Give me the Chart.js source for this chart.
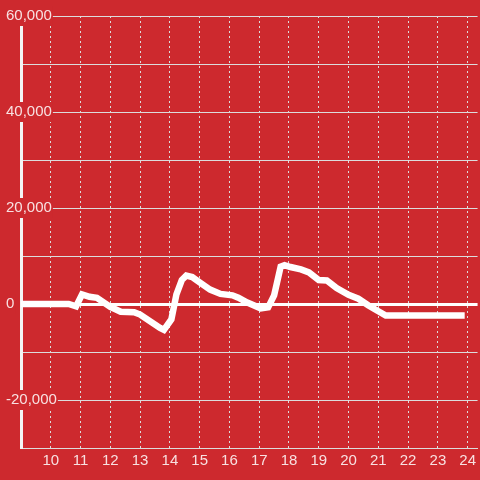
<!DOCTYPE html>
<html>
<head>
<meta charset="utf-8">
<script src="https://cdn.jsdelivr.net/npm/chart.js@4"></script>
<style>
  html, body { margin: 0; padding: 0; background: #cd292e; }
  #wrap { width: 480px; height: 480px; }
</style>
</head>
<body>
<div id="wrap"><canvas id="chart"></canvas></div>
<script>
// Data (hours of the day, value)
const hours = [9.0, 10.6, 10.85, 11.05, 11.3, 11.55, 12.0, 12.35, 12.8, 13.0,
  13.67, 13.8, 14.05, 14.22, 14.4, 14.55, 14.75, 15.0, 15.35, 15.7,
  16.1, 16.3, 16.6, 17.05, 17.3, 17.5, 17.72, 17.85, 18.05, 18.4,
  18.67, 19.0, 19.27, 19.6, 20.0, 20.33, 20.67, 21.0, 21.25, 23.9];
const values = [0, 0, -500, 2000, 1500, 1300, -600, -1600, -1700, -2200,
  -5000, -5400, -3200, 2000, 5000, 5900, 5600, 4500, 3000, 2100,
  1800, 1300, 300, -900, -700, 1800, 7800, 8100, 7700, 7200,
  6600, 5000, 4900, 3300, 1900, 1100, -300, -1500, -2400, -2400];
const hourTicks = [10, 11, 12, 13, 14, 15, 16, 17, 18, 19, 20, 21, 22, 23, 24];

const bgColor = '#cd292e';
const textColor = 'rgba(255,255,255,0.86)';
const gridColor = '#dcdcdc';

new Chart(document.getElementById('chart'), {
  type: 'line',
  data: {
    datasets: [{
      data: hours.map((h, i) => ({ x: h, y: values[i] })),
      borderColor: '#ffffff',
      borderWidth: 6.5,
      pointRadius: 0,
      tension: 0,
      fill: false
    }]
  },
  options: {
    responsive: true,
    maintainAspectRatio: false,
    animation: false,
    layout: { padding: { top: 16, left: 0, right: 0, bottom: 0 } },
    plugins: { legend: { display: false }, tooltip: { enabled: false } },
    scales: {
      x: {
        type: 'linear',
        min: 9,
        max: 24.333,
        afterBuildTicks: axis => {
          axis.ticks = hourTicks.map(v => ({ value: v }));
        },
        afterFit: axis => { axis.height = 32; },
        ticks: {
          autoSkip: false,
          maxRotation: 0,
          padding: 4,
          color: textColor,
          font: { family: 'Liberation Sans', size: 15 }
        },
        grid: { color: gridColor, lineWidth: 1, drawTicks: false },
        border: { color: gridColor, width: 1, dash: [2, 3] }
      },
      y: {
        min: -30000,
        max: 60000,
        afterFit: axis => { axis.width = 21; },
        ticks: {
          stepSize: 10000,
          mirror: true,
          padding: -15,
          color: textColor,
          font: { family: 'Liberation Sans', size: 15 },
          showLabelBackdrop: ctx => ctx.tick.value % 20000 === 0,
          backdropColor: bgColor,
          backdropPadding: 1,
          callback: v => (v % 20000 === 0 ? v.toLocaleString('en-US') : '')
        },
        grid: {
          drawTicks: false,
          color: ctx => (ctx.tick.value === 0 ? '#ffffff' : gridColor),
          lineWidth: ctx => (ctx.tick.value === 0 ? 3 : 1)
        },
        border: { color: '#f4f4f4', width: 3 }
      }
    }
  }
});
</script>
</body>
</html>
